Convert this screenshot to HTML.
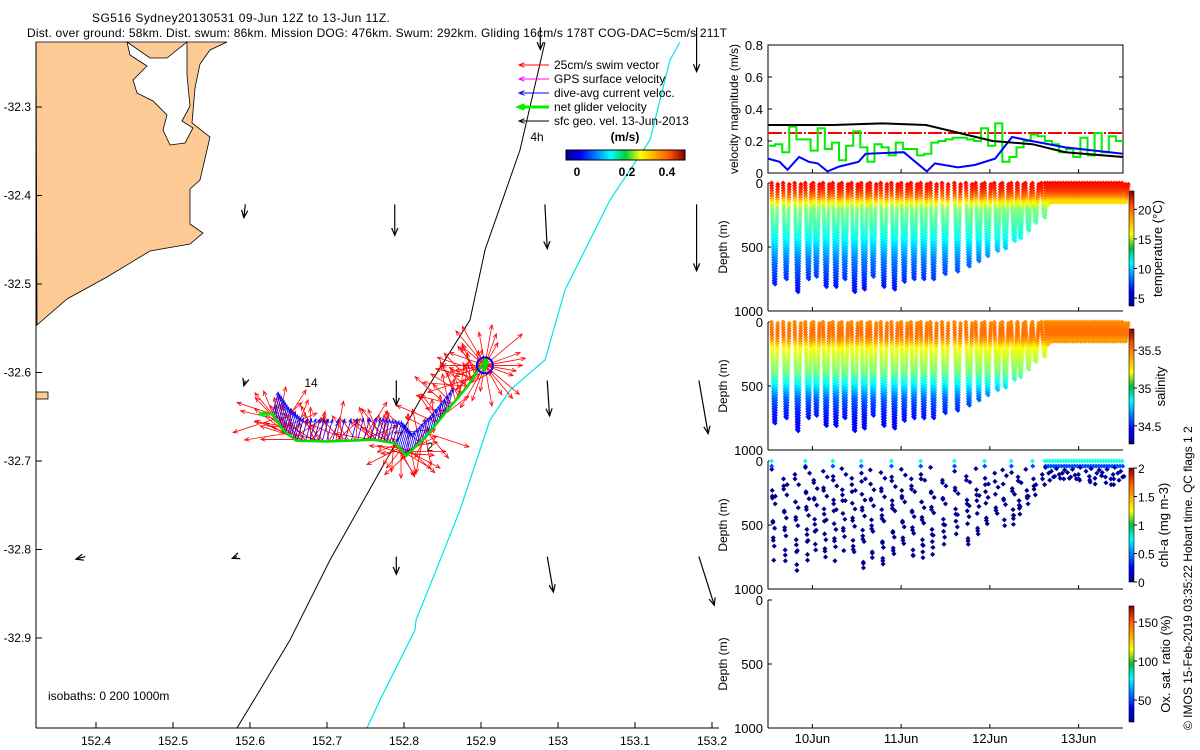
<!DOCTYPE html>
<html><head><meta charset="utf-8"><style>
html,body{margin:0;padding:0;background:#fff;}
svg{display:block;font-family:"Liberation Sans",sans-serif;font-size:12px;}
</style></head><body>
<svg id="fig" width="1200" height="750" viewBox="0 0 1200 750" xmlns="http://www.w3.org/2000/svg">
<defs>
<linearGradient id="jetH" x1="0" x2="1" y1="0" y2="0">
<stop offset="0" stop-color="#00008f"/><stop offset="0.125" stop-color="#0000ff"/><stop offset="0.375" stop-color="#00ffff"/><stop offset="0.5" stop-color="#00d040"/><stop offset="0.625" stop-color="#ffff00"/><stop offset="0.875" stop-color="#ff5000"/><stop offset="1" stop-color="#800000"/>
</linearGradient>
<linearGradient id="jetV" x1="0" x2="0" y1="1" y2="0">
<stop offset="0" stop-color="#00008f"/><stop offset="0.125" stop-color="#0000ff"/><stop offset="0.375" stop-color="#00ffff"/><stop offset="0.5" stop-color="#00c040"/><stop offset="0.625" stop-color="#ffff00"/><stop offset="0.875" stop-color="#ff5000"/><stop offset="1" stop-color="#800000"/>
</linearGradient>
</defs>
<text x="241" y="22" text-anchor="middle" textLength="298">SG516 Sydney20130531 09-Jun 12Z to 13-Jun 11Z.</text>
<text x="27" y="37" textLength="700">Dist. over ground: 58km. Dist. swum: 86km. Mission DOG: 476km. Swum: 292km. Gliding 16cm/s 178T COG-DAC=5cm/s 211T</text>
<g id="map"></g>
<g id="right"></g>
<text transform="translate(1192,730) rotate(-90)">© IMOS 15-Feb-2019 03:35:22 Hobart time. QC flags 1  2</text>
</svg>
<script>
// ---------- DATA ----------
const mapLonTicks=[152.4,152.5,152.6,152.7,152.8,152.9,153,153.1,153.2];
const mapLatTicks=[-32.3,-32.4,-32.5,-32.6,-32.7,-32.8,-32.9];
const trackLon=[152.629,152.643,152.660,152.700,152.760,152.789,152.803,152.829,152.856,152.883,152.896,152.907,152.903,152.909];
const trackLat=[-32.647,-32.665,-32.677,-32.678,-32.676,-32.680,-32.694,-32.672,-32.643,-32.615,-32.598,-32.584,-32.600,-32.587];
const swimAngles=[200,250,160,230,280,190,300,220,260,170,240,210,290,180,250,230,200,270,215,245,195,260,280,230,205,240,300,255,220,190,250,270,235,210,60,120,30,150,90,0,330,200,270,45,135,315,225,100,80,20,175,265,205,235,285,155,225,195,255,245,215,275,185,295,230,210,160,250,240,200];
const swimLen=[1,0.8,1.2,0.9,1.1,0.7,1.3,1,0.85,1.15];
const burstAngles=[0,20,40,60,80,100,120,140,160,180,200,220,240,260,280,300,320,340,10,50,110,170,230,290,350];
const curLon=[152.594,152.788,152.983,153.18,152.594,152.79,152.986,153.183,152.386,152.583,152.79,152.986,153.183,152.977,153.18];
const curLat=[-32.41,-32.41,-32.41,-32.41,-32.609,-32.609,-32.609,-32.609,-32.808,-32.808,-32.808,-32.808,-32.808,-32.21,-32.21];
const curU=[-0.002,0.0,0.003,0.0,-0.002,0.0,0.003,0.012,-0.012,-0.006,0.0,0.008,0.02,0.0,0.0];
const curV=[-0.015,-0.035,-0.05,-0.075,-0.006,-0.028,-0.04,-0.06,-0.003,-0.002,-0.02,-0.04,-0.055,-0.025,-0.05];
const dayTicks=[10,11,12,13];
const dayLabels=["10Jun","11Jun","12Jun","13Jun"];
const velTicks=[0,0.2,0.4,0.6,0.8];
const blueT=[9.5,9.63,9.72,9.85,9.96,10.06,10.17,10.3,10.52,10.6,10.82,11.03,11.29,11.38,11.64,11.83,12.06,12.25,12.47,12.85,13.5];
const blueV=[0.09,0.07,0.02,0.1,0.07,0.06,0.01,0.04,0.07,0.12,0.125,0.13,0.01,0.06,0.035,0.05,0.09,0.225,0.2,0.16,0.12];
const blackT=[9.5,10.23,10.79,11.28,11.58,12.03,12.48,12.85,13.5];
const blackV=[0.3,0.3,0.31,0.3,0.26,0.2,0.18,0.13,0.1];
const greenV=[0.17,0.18,0.13,0.29,0.21,0.21,0.14,0.28,0.15,0.19,0.08,0.17,0.26,0.16,0.07,0.18,0.16,0.11,0.19,0.15,0.15,0.11,0.12,0.19,0.2,0.21,0.22,0.22,0.21,0.2,0.28,0.17,0.31,0.07,0.1,0.16,0.2,0.24,0.23,0.2,0.18,0.13,0.15,0.1,0.22,0.11,0.25,0.13,0.23,0.2];
const swimSpeed=0.25;
const diveT=[9.54,9.67,9.80,9.92,10.01,10.12,10.23,10.33,10.44,10.55,10.65,10.77,10.89,11.00,11.11,11.22,11.33,11.46,11.60,11.73,11.84,11.94,12.05,12.14,12.24,12.31,12.40,12.48,12.58];
const diveMax=[780,750,845,740,720,810,815,740,855,820,720,810,820,760,740,740,740,710,680,650,600,560,530,500,450,420,360,310,260];
const shallowT=[12.62,12.65,12.68,12.71,12.74,12.77,12.8,12.83,12.86,12.89,12.92,12.95,12.98,13.01,13.04,13.07,13.1,13.13,13.16,13.19,13.22,13.25,13.28,13.31,13.34,13.37,13.4,13.43,13.46,13.49];
const shallowMax=[160,150,150,140,150,150,140,140,150,150,140,140,150,150,140,150,150,140,140,150,150,140,140,150,150,140,150,150,140,140];
const profDepth=[0,50,100,150,200,300,400,500,600,700,800,900];
const profTemp=[20.5,20,18.5,16,13.5,12.5,11.5,10,8.5,7.5,6.5,6];
const profSal=[35.38,35.42,35.42,35.35,35.2,35.1,35.0,34.8,34.6,34.5,34.45,34.42];
const chlDepth=[0,40,90,180,260,330,410,490,570,650,730,810];
const chlVal=[0.8,0.4,0.05,0.03,0.03,0.03,0.03,0.03,0.03,0.03,0.03,0.03];
const chlOffset=[0,35,-25,50,15,-40,60,-10,30,-30,45,5,-20];
const tempTicks=[5,10,15,20];
const salTicks=[34.5,35,35.5];
const chlTicks=[0,0.5,1,1.5,2];
const chlLabels=["0","0.5","1","1.5","2"];
const oxTicks=[50,100,150];
const depthTicks=[0,500,1000];

// ---------- HELPERS ----------
const NS="http://www.w3.org/2000/svg";
function mk(parent,tag,attrs,name){const e=document.createElementNS(NS,tag);for(const k in attrs)e.setAttribute(k,attrs[k]);


parent.appendChild(e);return e;}
function txt(parent,x,y,s,anchor,name,extra){const t=mk(parent,'text',Object.assign({x:x,y:y,'text-anchor':anchor||'start'},extra||{}),name);t.textContent=s;return t;}
function jet(v){v=Math.max(0,Math.min(1,v));const r=Math.max(0,Math.min(1,1.5-Math.abs(4*v-3)));const g=Math.max(0,Math.min(1,1.5-Math.abs(4*v-2)));const b=Math.max(0,Math.min(1,1.5-Math.abs(4*v-1)));return `rgb(${Math.round(r*255)},${Math.round(g*255)},${Math.round(b*255)})`;}
function interp(xs,ys,x){if(x<=xs[0])return ys[0];for(let i=1;i<xs.length;i++){if(x<=xs[i]){const f=(x-xs[i-1])/(xs[i]-xs[i-1]);return ys[i-1]+f*(ys[i]-ys[i-1]);}}return ys[ys.length-1];}

// ---------- MAP ----------
const map=document.getElementById('map');
const mx=lon=>96+(lon-152.4)*770;
const my=lat=>638-(lat+32.9)*885;
mk(map,'path',{d:"M36,42 L227,42 L210,50 L200,64 L195,88 L192,123 L210,137 L200,180 L190,189 L190,224 L203,233 L190,244 L150,251 L107,277 L67,299 L37,325 Z",fill:"#fdca96",stroke:"#000","stroke-width":0.8},'land');
mk(map,'path',{d:"M127,42 L150,58 L167,58 L187,42 L187,75 L190,106 L182,121 L193,128 L185,143 L170,145 L163,130 L167,115 L153,101 L137,93 L133,80 L147,66 L130,55 Z",fill:"#fff",stroke:"#000","stroke-width":0.8},'bay');
mk(map,'rect',{x:36,y:392,width:12,height:7,fill:"#fdca96",stroke:"#000","stroke-width":0.8},'island');
mk(map,'polyline',{points:"237,728 260,690 290,640 330,560 375,480 420,400 470,320 485,250 520,150 545,42",fill:"none",stroke:"#000","stroke-width":1},'isobath-200m');
mk(map,'polyline',{points:"367,728 380,700 415,630 416,620 437,568 460,510 490,420 510,390 545,360 565,290 610,200 650,140 670,60 680,42",fill:"none",stroke:"#00e5ee","stroke-width":1.2},'isobath-1000m');
mk(map,'line',{x1:36,y1:42,x2:36,y2:728,stroke:"#000"},'map-y-axis');
mk(map,'line',{x1:36,y1:728,x2:719,y2:728,stroke:"#000"},'map-x-axis');
mapLonTicks.forEach(l=>{const x=mx(l);mk(map,'line',{x1:x,y1:728,x2:x,y2:722,stroke:"#000"},'map-x-tick');txt(map,x,745,String(l),'middle','map-x-tick-label');});
mapLatTicks.forEach(l=>{const y=my(l);mk(map,'line',{x1:36,y1:y,x2:42,y2:y,stroke:"#000"},'map-y-tick');txt(map,31,y+4,l.toFixed(1),'end','map-y-tick-label');});
txt(map,48,700,"isobaths: 0   200  1000m",'start','isobath-note');
function arrow(g,x1,y1,x2,y2,col,w,name,head){mk(g,'line',{x1:x1,y1:y1,x2:x2,y2:y2,stroke:col,"stroke-width":w},name);
const a=Math.atan2(y2-y1,x2-x1),h=head||6;
mk(g,'polyline',{points:`${x2-h*Math.cos(a-0.4)},${y2-h*Math.sin(a-0.4)} ${x2},${y2} ${x2-h*Math.cos(a+0.4)},${y2-h*Math.sin(a+0.4)}`,fill:"none",stroke:col,"stroke-width":w},name+'-head');}
const trk=map.appendChild(document.createElementNS(NS,'g'));


function trackPt(f){const k=Math.min(trackLon.length-2,Math.floor(f));const r=f-k;return [mx(trackLon[k]+r*(trackLon[k+1]-trackLon[k])),my(trackLat[k]+r*(trackLat[k+1]-trackLat[k]))];}
swimAngles.forEach((ang,i)=>{const f=i/(swimAngles.length-1)*(trackLon.length-4);const [x,y]=trackPt(f);
const L=swimSpeed*150*swimLen[i%swimLen.length];const rad=ang*Math.PI/180;
arrow(trk,x,y,x+L*Math.cos(rad),y+L*Math.sin(rad)*0.9,"#ff0000",0.8,'swim-vector',5);
arrow(trk,x,y,x+L*0.8*Math.cos(rad+0.6),y+L*0.7*Math.sin(rad+0.6),"#ff0000",0.8,'swim-vector',5);});
const cx=mx(152.905),cy=my(-32.592);
burstAngles.forEach((ang,i)=>{const rad=ang*Math.PI/180;const L=swimSpeed*150*swimLen[i%swimLen.length];arrow(trk,cx,cy,cx+L*Math.cos(rad),cy+L*Math.sin(rad),"#ff0000",0.8,'swim-vector',5);});
for(let i=0;i<60;i++){const [x,y]=trackPt(i/59*(trackLon.length-6));arrow(trk,x,y,x+6,y-22,"#0000ff",0.8,'current-vector',4);}
mk(trk,'polyline',{points:trackLon.map((l,i)=>mx(l)+","+my(trackLat[i])).join(" "),fill:"none",stroke:"#00dd00","stroke-width":2.5},'glider-track');
mk(trk,'circle',{cx:cx,cy:cy,r:8,fill:"none",stroke:"#0000ff","stroke-width":2},'drift-loop');
arrow(trk,mx(trackLon[0])+2,my(trackLat[0]),mx(trackLon[0])-12,my(trackLat[0]),"#00ee00",2.5,'net-velocity',5);
curLon.forEach((lo,i)=>{const x=mx(lo),y=my(curLat[i]);arrow(map,x,y,x+curU[i]*770,y-curV[i]*885,"#000",1.2,'geo-vector',8);});
txt(map,311,387,"14",'middle','time-label-14');
txt(map,430,451,"2",'middle','time-label-2');
txt(map,537,141,"4h",'middle','time-label-4h');
const legItems=[["25cm/s swim vector","#ff0000",1],["GPS surface velocity","#ff00ff",1],["dive-avg current veloc.","#0000ff",1],["net glider velocity","#00ee00",3],["sfc geo. vel. 13-Jun-2013","#000",1]];
legItems.forEach((it,i)=>{const y=65+i*14;arrow(map,549,y,519,y,it[1],it[2],'legend-arrow',6);txt(map,554,y+4,it[0],'start','legend-label');});
txt(map,625,141,"(m/s)",'middle','colorbar-units',{"font-weight":"bold"});
mk(map,'rect',{x:566,y:150,width:119,height:10,fill:"url(#jetH)",stroke:"#000"},'speed-colorbar');
[[0,577],[0.2,627],[0.4,667]].forEach(p=>txt(map,p[1],176,String(p[0]),'middle','speed-colorbar-label',{"font-weight":"bold"}));

// ---------- RIGHT PANELS ----------
const R=document.getElementById('right');
const X0=768,X1=1123;
const tx=t=>X0+(t-9.5)*88.75;
const p1T=45,p1B=173;
const vy=v=>p1B-v/0.8*(p1B-p1T);
mk(R,'rect',{x:X0,y:p1T,width:X1-X0,height:p1B-p1T,fill:"none",stroke:"#000"},'velocity-axes-box');
velTicks.forEach(v=>{const y=vy(v);mk(R,'line',{x1:X0,y1:y,x2:X0+4,y2:y,stroke:"#000"},'vel-y-tick');mk(R,'line',{x1:X1,y1:y,x2:X1-4,y2:y,stroke:"#000"},'vel-y-tick-right');txt(R,763,y+5,String(v),'end','vel-y-tick-label',{"font-size":"13"});});
dayTicks.forEach(d=>{mk(R,'line',{x1:tx(d),y1:p1B,x2:tx(d),y2:p1B-4,stroke:"#000"},'vel-x-tick');});
txt(R,0,0,"velocity magnitude (m/s)",'middle','velocity-y-label',{transform:`translate(738,${(p1T+p1B)/2}) rotate(-90)`});
mk(R,'line',{x1:X0,y1:vy(swimSpeed),x2:X1,y2:vy(swimSpeed),stroke:"#ff0000","stroke-width":2,"stroke-dasharray":"14,2,2,2"},'swim-speed-line');
let gp=[];const gdt=4/greenV.length;greenV.forEach((v,i)=>{const t0=9.5+i*gdt;gp.push(tx(t0)+","+vy(v));gp.push(tx(t0+gdt)+","+vy(v));});
mk(R,'polyline',{points:gp.join(" "),fill:"none",stroke:"#00ee00","stroke-width":2},'net-velocity-series');
mk(R,'polyline',{points:blueT.map((t,i)=>tx(t)+","+vy(blueV[i])).join(" "),fill:"none",stroke:"#0000ff","stroke-width":2},'current-series');
mk(R,'polyline',{points:blackT.map((t,i)=>tx(t)+","+vy(blackV[i])).join(" "),fill:"none",stroke:"#000","stroke-width":2},'geostrophic-series');

function depthPanel(top,name,cbTop,cbBot,cmin,cmax,ticks,labels,cbLabel,cbLabelX,showDates){
const bot=top+128;const g=mk(R,'g',{},name);
mk(g,'line',{x1:X0,y1:top,x2:X0,y2:bot,stroke:"#000"},name+'-y-axis');
mk(g,'line',{x1:X0,y1:bot,x2:X1,y2:bot,stroke:"#000"},name+'-x-axis');
depthTicks.forEach(d=>{const y=top+d/1000*128;mk(g,'line',{x1:X0,y1:y,x2:X0+4,y2:y,stroke:"#000"},name+'-y-tick');txt(g,763,y+5,String(d),'end',name+'-y-tick-label',{"font-size":"13"});});
dayTicks.forEach((d,i)=>{mk(g,'line',{x1:tx(d),y1:bot,x2:tx(d),y2:bot-4,stroke:"#000"},name+'-x-tick');if(showDates)txt(g,tx(d),743,dayLabels[i],'middle','date-label',{"font-size":"13"});});
txt(g,0,0,"Depth (m)",'middle',name+'-y-label',{transform:`translate(727,${top+64}) rotate(-90)`});
mk(g,'rect',{x:1129,y:cbTop,width:5,height:cbBot-cbTop,fill:"url(#jetV)",stroke:"#000","stroke-width":0.6},name+'-colorbar');
ticks.forEach((v,i)=>{const y=cbBot-(v-cmin)/(cmax-cmin)*(cbBot-cbTop);mk(g,'line',{x1:1134,y1:y,x2:1137,y2:y,stroke:"#000"},name+'-cb-tick');txt(g,1138,y+5,labels[i],'start',name+'-cb-label',{"font-size":"12"});});
txt(g,0,0,cbLabel,'middle',name+'-cb-title',{transform:`translate(${cbLabelX},${(cbTop+cbBot)/2}) rotate(-90)`,"font-size":"13"});
return {g:g,top:top};}
function dot(g,x,y,col,name,s){s=s||2;mk(g,'rect',{x:x-s,y:y-s,width:2*s,height:2*s,fill:col,transform:`rotate(45 ${x} ${y})`},name);}
function scatterProfiles(P,prof,cmin,cmax,name){
const all=diveT.map((t,i)=>[t,diveMax[i]]).concat(shallowT.map((t,i)=>[t,shallowMax[i]]));
all.forEach(([t,mx_])=>{for(let d=0;d<=mx_;d+=20){const c=jet((interp(profDepth,prof,d)-cmin)/(cmax-cmin));const f=d/mx_;
dot(P.g,tx(t+f*0.03),P.top+d/1000*128,c,name,1.8);dot(P.g,tx(t+0.07-f*0.03),P.top+(d+10)/1000*128,c,name,1.8);}});}
const P2=depthPanel(183,'temperature-panel',191,306,3.65,23.1,tempTicks,tempTicks.map(String),"temperature (°C)",1162,false);
scatterProfiles(P2,profTemp,3.65,23.1,'temperature-point');
const P3=depthPanel(322,'salinity-panel',329,444,34.26,35.78,salTicks,salTicks.map(String),"salinity",1165,false);
scatterProfiles(P3,profSal,34.26,35.78,'salinity-point');
const P4=depthPanel(461,'chl-panel',468,582,0,2,chlTicks,chlLabels,"chl-a (mg m-3)",1168,false);
diveT.concat(shallowT).forEach((t,i)=>{const mxd=i<diveT.length?diveMax[i]:shallowMax[i-diveT.length];chlDepth.forEach((d,j)=>{const dd=j<2?d:d+chlOffset[(i+j)%chlOffset.length];if(dd<=mxd){const c=jet(chlVal[j]/2);const f=dd/mxd;
if(j>=2||i%3==0||i>=diveT.length)dot(P4.g,tx(t+f*0.025),P4.top+dd/1000*128,c,'chl-point',1.8);
if(j>=2&&(i+j)%2==1)dot(P4.g,tx(t+0.05-f*0.025),P4.top+(dd+45)/1000*128,c,'chl-point',1.8);}});});
const P5=depthPanel(600,'oxygen-panel',606,722,21.8,170.5,oxTicks,oxTicks.map(String),"Ox. sat. ratio (%)",1170,true);
</script>
</body></html>
